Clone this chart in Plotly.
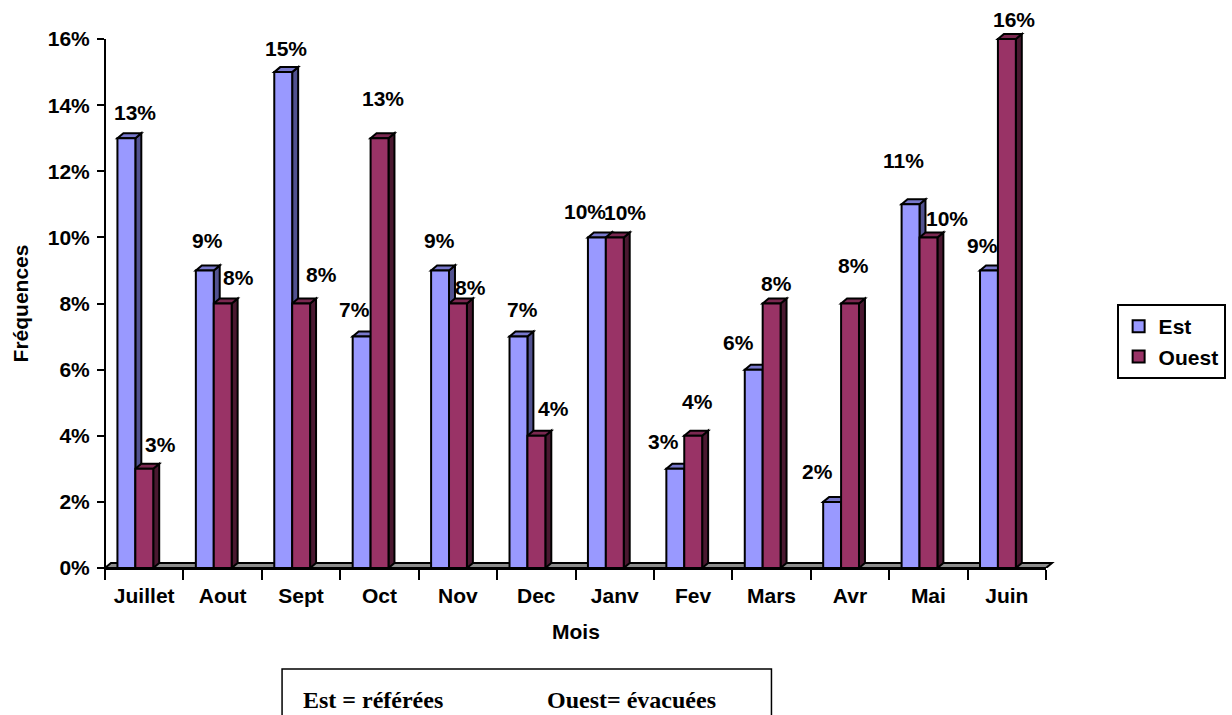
import plotly.graph_objects as go

# ---- data ----
months = ["Juillet", "Aout", "Sept", "Oct", "Nov", "Dec",
          "Janv", "Fev", "Mars", "Avr", "Mai", "Juin"]
est = [13, 9, 15, 7, 9, 7, 10, 3, 6, 2, 11, 9]
ouest = [3, 8, 8, 13, 8, 4, 10, 4, 8, 8, 10, 16]
y_tick_vals = [0, 2, 4, 6, 8, 10, 12, 14, 16]
y_tick_text = ["0%", "2%", "4%", "6%", "8%", "10%", "12%", "14%", "16%"]

# label nudges in pixels (right, up) relative to the top of each bar front
est_label_shift = [(9, 26), (3, 30), (3, 24), (-7, 27), (-1, 30), (4, 27),
                   (-12, 26), (-12, 27), (-15, 27), (-15, 30), (-7, 44), (-6, 25)]
ouest_label_shift = [(16, 24), (16, 26), (20, 29), (3, 40), (13, 16), (17, 27),
                     (10, 25), (4, 34), (5, 20), (3, 38), (19, 19), (7, 20)]

# ---- geometry ----
W, H = 1232, 715
ML, MR, MT, MB = 105, 181, 6, 147
XR = (-0.5, 11.5)
YR = (0, 17)
plot_w = W - ML - MR
plot_h = H - MT - MB
px_x = plot_w / (XR[1] - XR[0])
px_y = plot_h / (YR[1] - YR[0])

bar_w = 18 / px_x
est_off = -0.5 + 12.5 / px_x
ouest_off = est_off + bar_w
DX = 6 / px_x          # depth of the 3D extrusion (x units)
DY = 5 / px_y          # depth of the 3D extrusion (y units)
EDGE = 2

FONT = "Liberation Sans, Arial, sans-serif"
EST_COL = ("#9999FF", "#525290", "#7878CC")      # front, side, top
OUEST_COL = ("#993366", "#4A1830", "#7A2850")

idx = list(range(len(months)))


def px_to_paper_x(p):
    return (p - ML) / plot_w


def px_to_paper_y(p):
    return (H - MB - p) / plot_h


fig = go.Figure()
for name, vals, off, col in (("Est", est, est_off, EST_COL),
                             ("Ouest", ouest, ouest_off, OUEST_COL)):
    fig.add_trace(go.Bar(
        x=idx, y=vals, name=name, offset=off, width=bar_w,
        marker=dict(color=col[0], line=dict(color="black", width=EDGE)),
        hoverinfo="skip",
    ))

shapes = []

# floor of the 3D plot (x in paper units, y in data units)
def fx(x):
    return (x - XR[0]) / (XR[1] - XR[0])

floor = (f"M {fx(XR[0])},0 L {fx(XR[1])},0 L {fx(XR[1] + DX)},{DY} "
         f"L {fx(XR[0] + DX)},{DY} Z")
shapes.append(dict(type="path", path=floor, xref="paper", yref="y",
                   fillcolor="#8C8C8C", line=dict(color="black", width=EDGE),
                   layer="below"))

# side and top faces of each bar
for vals, off, col in ((est, est_off, EST_COL), (ouest, ouest_off, OUEST_COL)):
    for i, v in zip(idx, vals):
        L = i + off
        R = L + bar_w
        side = f"M {R},0 L {R + DX},{DY} L {R + DX},{v + DY} L {R},{v} Z"
        top = f"M {L},{v} L {L + DX},{v + DY} L {R + DX},{v + DY} L {R},{v} Z"
        shapes.append(dict(type="path", path=side, xref="x", yref="y",
                           fillcolor=col[1], line=dict(color="black", width=EDGE),
                           layer="below"))
        shapes.append(dict(type="path", path=top, xref="x", yref="y",
                           fillcolor=col[2], line=dict(color="black", width=EDGE),
                           layer="below"))

# vertical axis line, running slightly below the floor
shapes.append(dict(type="line", xref="paper", yref="paper",
                   x0=0, x1=0, y0=px_to_paper_y(578), y1=16 / YR[1],
                   line=dict(color="black", width=2)))

# framed caption under the chart
shapes.append(dict(type="rect", xref="paper", yref="paper",
                   x0=px_to_paper_x(283), x1=px_to_paper_x(775),
                   y0=px_to_paper_y(669), y1=px_to_paper_y(740),
                   line=dict(color="black", width=1.5), fillcolor="rgba(0,0,0,0)"))

annotations = []
for vals, off, shifts in ((est, est_off, est_label_shift),
                          (ouest, ouest_off, ouest_label_shift)):
    for i, v, (sx, sy) in zip(idx, vals, shifts):
        annotations.append(dict(
            x=i + off + bar_w / 2, y=v, xref="x", yref="y",
            text=f"{v}%", showarrow=False, xanchor="center", yanchor="middle",
            xshift=sx, yshift=sy,
            font=dict(family=FONT, size=21, color="black", weight="bold"),
        ))

annotations.append(dict(
    x=0.5, y=px_to_paper_y(631), xref="paper", yref="paper", text="Mois",
    showarrow=False, xanchor="center", yanchor="middle",
    font=dict(family=FONT, size=21, color="black", weight="bold")))
annotations.append(dict(
    x=px_to_paper_x(20), y=px_to_paper_y(303), xref="paper", yref="paper",
    text="Fréquences", textangle=-90, showarrow=False,
    xanchor="center", yanchor="middle",
    font=dict(family=FONT, size=21, color="black", weight="bold")))

serif = dict(family="Liberation Serif, Times New Roman, serif", size=24,
             color="black", weight="bold")
annotations.append(dict(
    x=px_to_paper_x(302), y=px_to_paper_y(700), xref="paper", yref="paper",
    text="Est = référées", showarrow=False, xanchor="left", yanchor="middle",
    font=serif))
annotations.append(dict(
    x=px_to_paper_x(547), y=px_to_paper_y(700), xref="paper", yref="paper",
    text="Ouest= évacuées", showarrow=False, xanchor="left", yanchor="middle",
    font=serif))

fig.update_layout(
    width=W, height=H,
    margin=dict(l=ML, r=MR, t=MT, b=MB, pad=0),
    paper_bgcolor="white", plot_bgcolor="white",
    barmode="overlay",
    font=dict(family=FONT, size=21, color="black", weight="bold"),
    shapes=shapes,
    annotations=annotations,
    showlegend=True,
    legend=dict(
        x=px_to_paper_x(1122), xanchor="left",
        y=px_to_paper_y(304), yanchor="top",
        bordercolor="black", borderwidth=2, bgcolor="white",
        font=dict(family=FONT, size=21, color="black", weight="bold"),
        itemwidth=30, tracegroupgap=0,
    ),
    xaxis=dict(
        range=list(XR), tickmode="array", tickvals=idx, ticktext=months,
        ticks="", showgrid=False, zeroline=False,
        showline=True, linecolor="black", linewidth=2,
        ticklabelstandoff=8,
        tickfont=dict(family=FONT, size=21, color="black", weight="bold"),
        minor=dict(tickmode="array", tickvals=[i - 0.5 for i in range(13)],
                   ticks="outside", ticklen=10, tickwidth=2, tickcolor="black",
                   showgrid=False),
        fixedrange=True,
    ),
    yaxis=dict(
        range=list(YR), tickmode="array", tickvals=y_tick_vals,
        ticktext=y_tick_text, ticks="outside", ticklen=7, tickwidth=2,
        tickcolor="black", showgrid=False, zeroline=False, showline=False,
        ticklabelstandoff=3,
        tickfont=dict(family=FONT, size=21, color="black", weight="bold"),
        fixedrange=True,
    ),
)

fig.write_html("out.html")
